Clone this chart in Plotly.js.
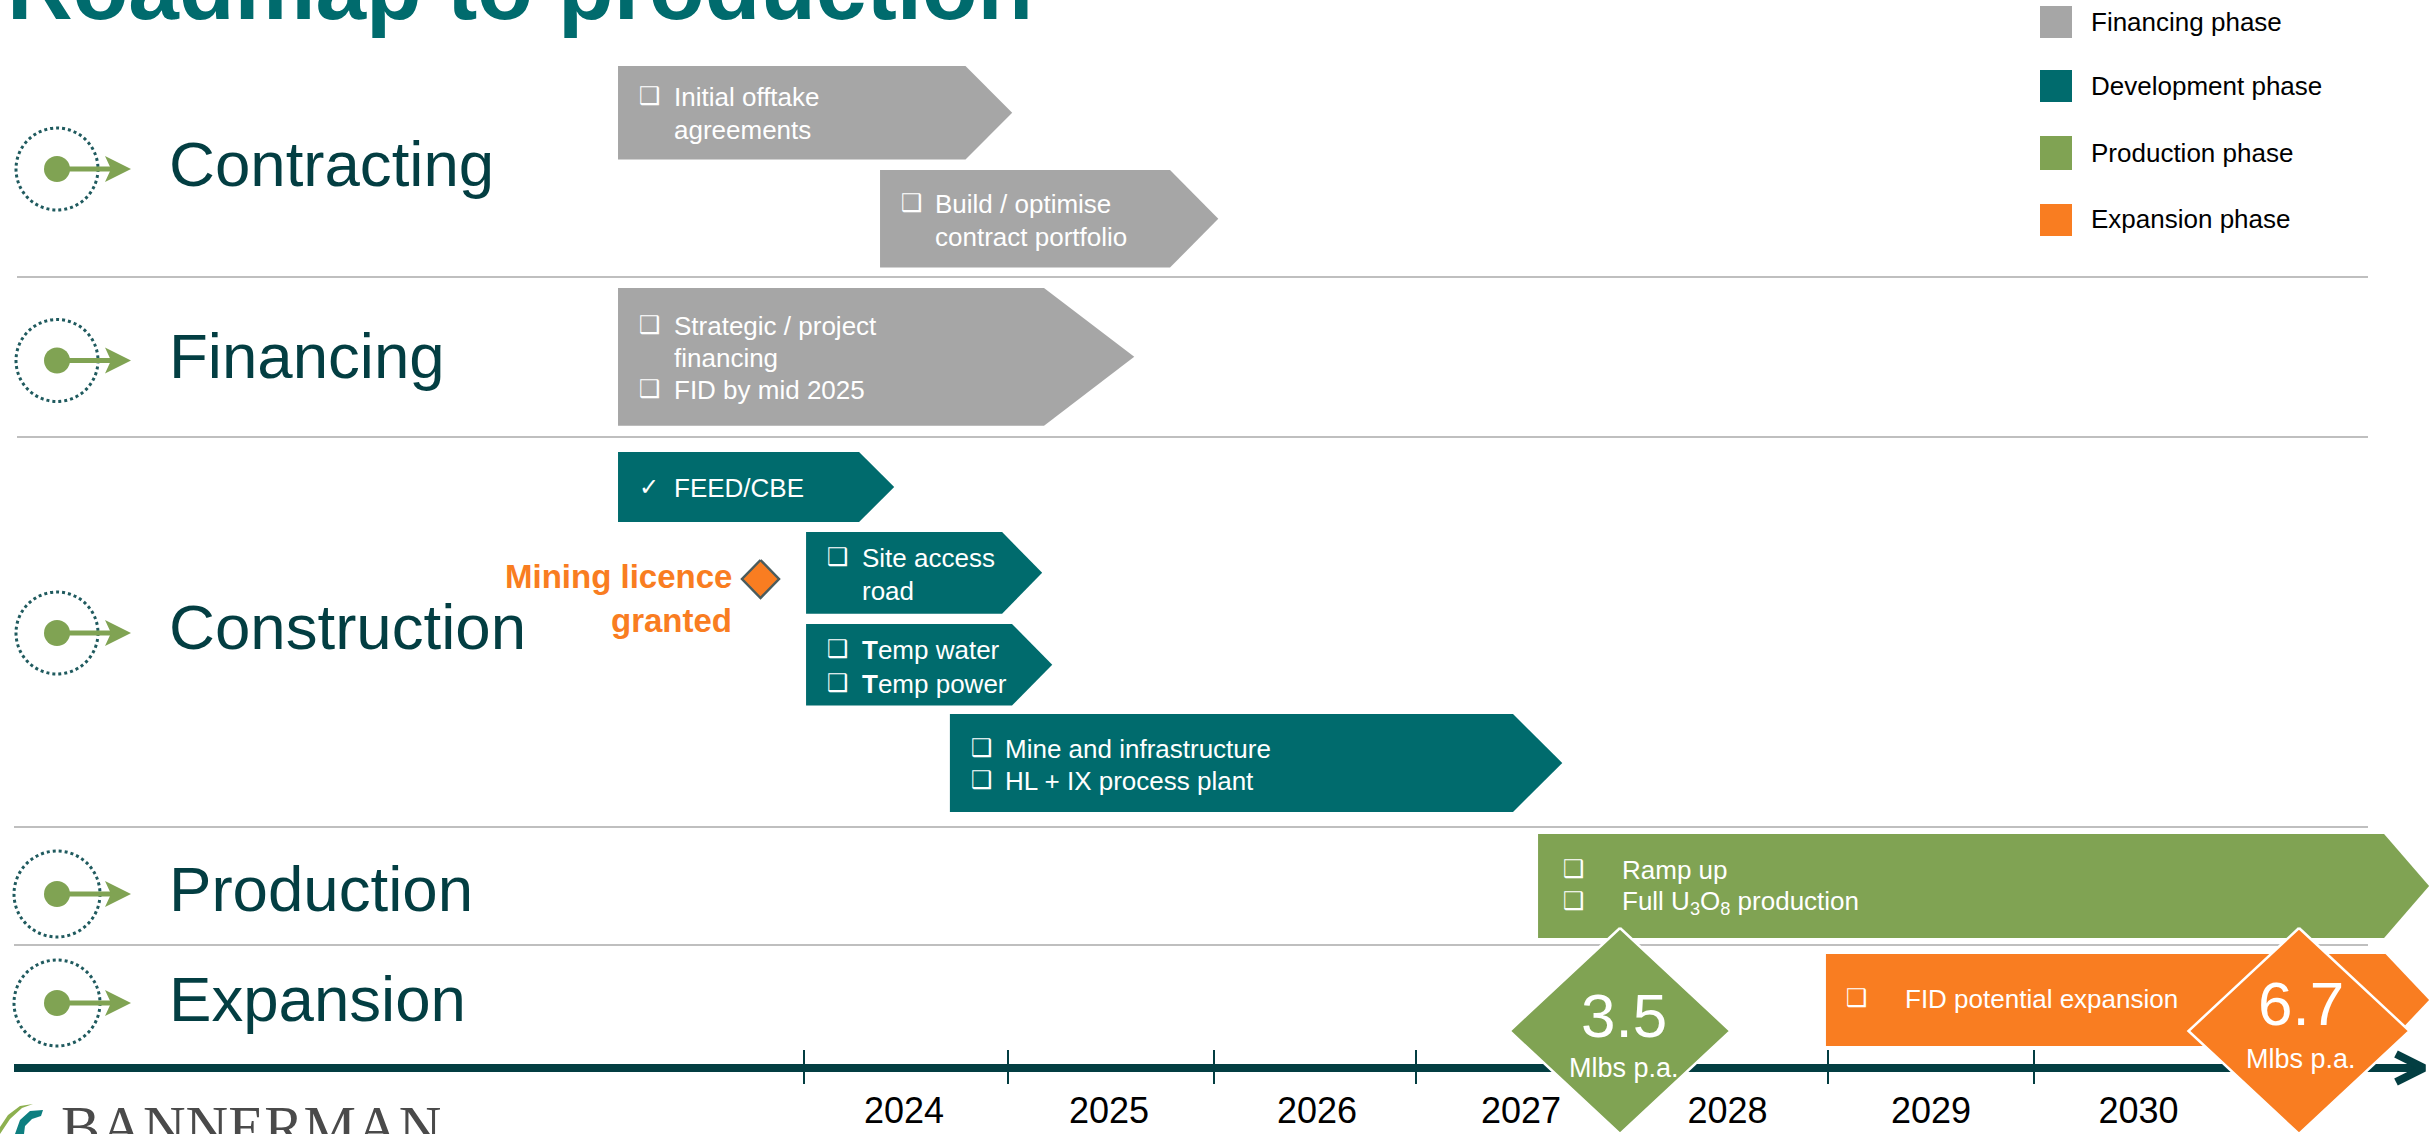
<!DOCTYPE html>
<html>
<head>
<meta charset="utf-8">
<script src="https://cdn.plot.ly/plotly-3.0.1.min.js"></script>
<style>html,body{margin:0;padding:0;background:#fff;overflow:hidden}#chart{width:2436px;height:1134px}</style>
</head>
<body>
<div id="chart"></div>
<script>
// ---- chart data -------------------------------------------------------
const stages = ["Contracting", "Financing", "Construction", "Production", "Expansion"];
const years = ["2024", "2025", "2026", "2027", "2028", "2029", "2030"];
const phaseNames = ["Financing phase", "Development phase", "Production phase", "Expansion phase"];

const taskLines = [
  ["Initial offtake", "agreements"],
  ["Build / optimise", "contract portfolio"],
  ["Strategic / project", "financing", "FID by mid 2025"],
  ["FEED/CBE"],
  ["Site access", "road"],
  ["<b>T</b>emp water", "<b>T</b>emp power"],
  ["Mine and infrastructure", "HL + IX process plant"],
  ["Ramp up", "Full U<sub>3</sub>O<sub>8</sub> production"],
  ["FID potential expansion"]
];
const taskPhase = [0, 0, 0, 1, 1, 1, 1, 2, 3];
const taskStart = [2023.095, 2024.370, 2023.095, 2023.095, 2024.010, 2024.010, 2024.710, 2027.572, 2028.973];
const taskEnd   = [2024.786, 2025.781, 2025.168, 2024.268, 2024.964, 2025.012, 2027.450, 2031.689, 2031.696];
const taskTip   = [2025.013, 2026.016, 2025.607, 2024.439, 2025.159, 2025.208, 2027.690, 2031.908, 2031.908];

const outputValues = ["3.5", "6.7"];
const outputUnit = "Mlbs p.a.";
const milestoneText = ["Mining licence", "granted"];
const titleText = "Roadmap to production";

// ---- styling and placement --------------------------------------------
const phaseColors = ["#A6A6A6", "#006B6D", "#80A353", "#F97D21"];
const DARK = "#033E42", RULE = "#BFBFBF", FONT = "'Liberation Sans', Arial, sans-serif";
const PX_PER_YEAR = 205.5, X0 = 2024 - 804 / PX_PER_YEAR;
const X = px => X0 + px / PX_PER_YEAR;           // horizontal slide position -> year

const taskTop    = [66, 170, 288, 452, 532, 624, 714, 834, 954];
const taskBottom = [159.5, 267.6, 425.7, 522, 613.7, 705.5, 812, 938, 1046];
const taskBox    = [638.5, 900.5, 638.5, 638.5, 826.5, 826.5, 970.5, 1563, 1846];
const taskText   = [673.5, 935, 673.5, 673.5, 862, 862, 1005, 1622, 1905];
const taskLineY  = [[97, 129.5], [204, 236.5], [326, 358, 390], [488], [558, 591], [650, 683.5], [749, 781], [870, 902], [999]];
const taskMark   = ["❑", "❑", "❑", "✓", "❑", "❑", "❑", "❑", "❑"];
const stageY     = [163, 355, 626, 888, 998];
const iconY      = [169, 360.5, 633, 894, 1003];
const ruleY      = [277, 437, 827, 945];
const ruleX0     = [17, 17, 14, 14];
const tickPx     = [804, 1008, 1214, 1416, 1828, 2034];
const yearPx     = [904, 1109, 1317, 1521, 1727.5, 1931, 2138.5];
const legendTop  = [6, 70, 136, 204];
const legendBot  = [38, 102, 170, 236];
const legendTextY = [22, 86, 153, 219];

const traces = [], annotations = [], shapes = [];
function poly(xs, ys, fill, lineColor, lineWidth) {
  traces.push({x: xs, y: ys, mode: "lines", fill: "toself", fillcolor: fill,
    line: {color: lineColor || fill, width: lineWidth || 0}, hoverinfo: "skip", showlegend: false});
}
function line(xs, ys, color, width) {
  traces.push({x: xs, y: ys, mode: "lines", line: {color: color, width: width},
    hoverinfo: "skip", showlegend: false});
}
function label(px, y, text, size, color, anchor, extra) {
  annotations.push(Object.assign({xref: "x", yref: "y", x: X(px), y: y, text: text, showarrow: false,
    xanchor: anchor || "left", yanchor: "middle", align: anchor || "left", borderpad: 0, borderwidth: 0,
    font: {family: FONT, size: size, color: color}}, extra || {}));
}

// rules between stages
ruleY.forEach((y, i) => line([X(ruleX0[i]), X(2368)], [y, y], RULE, 2));

// timeline with year separators and arrow head
line([X(14), X(2422)], [1068, 1068], DARK, 8);
line([X(2396), X(2424), X(2396)], [1054, 1068, 1082], DARK, 8);
tickPx.forEach(p => line([X(p), X(p)], [1050, 1084], DARK, 2));

// stage chevrons
taskStart.forEach((s, i) => {
  const t = taskTop[i], b = taskBottom[i], m = (t + b) / 2;
  poly([s, taskEnd[i], taskTip[i], taskEnd[i], s, s], [t, t, m, b, b, t], phaseColors[taskPhase[i]]);
  taskLines[i].forEach((txt, j) => {
    const isFirst = j === 0 || (i === 2 && j === 2) || i === 5 || i === 6 || i === 7;
    if (isFirst) label(taskBox[i], taskLineY[i][j] - 1, "<b>" + taskMark[i] + "</b>", 24, "#FFFFFF", "left",
      {font: {family: "'DejaVu Sans', sans-serif", size: 24, color: "#FFFFFF"}});
    label(taskText[i], taskLineY[i][j], txt, 26, "#FFFFFF");
  });
});

// production-rate diamonds
[[1620, 1031, 2], [2299, 1031, 3]].forEach(([cx, cy, p], i) => {
  poly([X(cx), X(cx + 110.5), X(cx), X(cx - 110.5), X(cx)], [cy - 103, cy, cy + 103, cy, cy - 103],
       phaseColors[p], "#FFFFFF", 2.5);
  const dx = i === 0 ? 4 : 2;
  label(cx + dx, i === 0 ? 1015 : 1003, outputValues[i], 62, "#FFFFFF", "center");
  label(cx + dx, i === 0 ? 1068 : 1059, outputUnit, 27, "#FFFFFF", "center");
});

// milestone
poly([X(760.5), X(779), X(760.5), X(742), X(760.5)], [560, 579, 598, 579, 560], "#F97D21", "#4A5C5E", 2.5);
label(732, 576.5, "<b>" + milestoneText[0] + "</b>", 33, "#F97D21", "right");
label(732, 620, "<b>" + milestoneText[1] + "</b>", 33, "#F97D21", "right");

// stage labels and icons
stages.forEach((s, i) => {
  label(169, stageY[i], s, 63.6, DARK);
  const y = iconY[i], r = i < 3 ? 41 : 43;
  shapes.push({type: "circle", xref: "x", yref: "y", x0: X(57 - r), x1: X(57 + r), y0: y - r, y1: y + r,
    line: {color: "#1F5A5E", width: 3, dash: "dot"}, layer: "below"});
  line([X(57), X(116)], [y, y], "#80A353", 5);
  poly([X(105), X(131), X(105), X(111), X(105)], [y - 13, y, y + 13, y, y - 13], "#80A353");
  traces.push({x: [X(57)], y: [y], mode: "markers", marker: {color: "#80A353", size: 26},
    hoverinfo: "skip", showlegend: false});
});

// legend
phaseNames.forEach((n, i) => {
  const t = legendTop[i], b = legendBot[i];
  poly([X(2040), X(2072), X(2072), X(2040), X(2040)], [t, t, b, b, t], phaseColors[i]);
  label(2091, legendTextY[i], n, 26, "#000000");
});

// heading (runs off the top of the slide) and logo
annotations.push({xref: "x", yref: "y", x: X(5), y: 40, xanchor: "left", yanchor: "bottom", showarrow: false,
  text: "<b>" + titleText + "</b>", font: {family: FONT, size: 91, color: "#006B6D"}});
poly([X(0), X(8), X(20), X(33), X(22), X(10), X(0)], [1127, 1115, 1106, 1104, 1108, 1119, 1134], "#8DB04F");
poly([X(15), X(20), X(30), X(43), X(41), X(32), X(25), X(24)], [1134, 1120, 1111, 1110, 1116, 1119, 1126, 1134], "#0E7F80");
annotations.push({xref: "x", yref: "y", x: X(59), y: 1133, xanchor: "left", yanchor: "top", yshift: 41, showarrow: false,
  text: "BANNERMAN", font: {family: "'Liberation Serif', serif", size: 59, color: "#4A4A4A"}});

const layout = {
  width: 2436, height: 1134, margin: {l: 0, r: 0, t: 0, b: 0}, autosize: false,
  paper_bgcolor: "#FFFFFF", plot_bgcolor: "rgba(0,0,0,0)", showlegend: false,
  xaxis: {range: [X0, X(2436)], showgrid: false, zeroline: false, showline: false, ticks: "",
    anchor: "free", position: 1 - 1068 / 1134, tickmode: "array", tickvals: yearPx.map(X), ticktext: years,
    ticklabelstandoff: 18, tickfont: {family: FONT, size: 36, color: "#000000"}, fixedrange: true},
  yaxis: {range: [1134, 0], visible: false, fixedrange: true},
  annotations: annotations, shapes: shapes
};
Plotly.newPlot("chart", traces, layout, {displayModeBar: false, staticPlot: true});
</script>
</body>
</html>
